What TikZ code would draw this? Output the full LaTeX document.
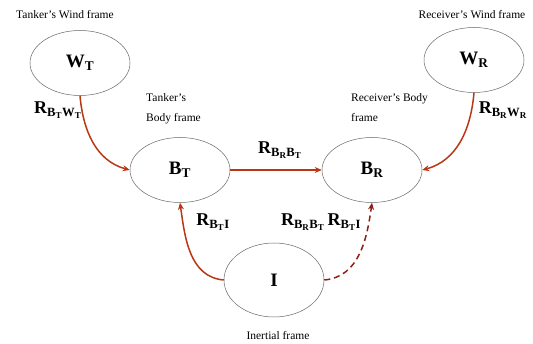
\documentclass[tikz,border=0pt]{standalone}
\usepackage{amsmath}
\usepackage{fontspec}
\setmainfont{Liberation Serif}
\usetikzlibrary{arrows.meta,shapes.geometric}
\definecolor{arr}{RGB}{185,55,20}
\definecolor{darr}{RGB}{145,30,20}
\newcommand\bsub[2]{\mathbf{#1}_{\mathbf{#2}}}
\begin{document}
\begin{tikzpicture}[x=1pt,y=-1pt,
  frame/.style={ellipse, draw=black!60, line width=0.5pt, minimum width=100pt,
    minimum height=65pt, inner sep=0pt, font=\fontsize{19}{19}\selectfont\bfseries},
  conn/.style={draw=arr, line width=1.5pt, -{Stealth[length=7pt,width=6pt]}},
  dconn/.style={draw=darr, line width=1.5pt, dash pattern=on 6pt off 4pt, -{Stealth[length=7pt,width=6pt]}},
  lbl/.style={font=\fontsize{11.5}{20}\selectfont, inner sep=0pt},
  rl/.style={font=\fontsize{18}{18}\selectfont\bfseries, inner sep=0pt}]
\useasboundingbox (0,0) rectangle (533,344);
\node[frame] (WT) at (80,63) {$\bsub{W}{T}$};
\node[frame] (WR) at (474,60) {$\bsub{W}{R}$};
\node[frame] (BT) at (180,170) {$\bsub{B}{T}$};
\node[frame] (BR) at (372,170) {$\bsub{B}{R}$};
\node[frame, minimum height=74pt] (I) at (274,280) {$\mathbf{I}$};

\node[lbl] (lwt) at (65,15) {Tanker’s Wind frame};
\node[lbl] (lwr) at (472,15) {Receiver’s Wind frame};
\node[lbl, anchor=north west, align=left] (lbt) at (146,93) {Tanker’s\\Body frame};
\node[lbl, anchor=north west, align=left] (lbr) at (351,93) {Receiver’s Body\\frame};
\node[lbl] (li) at (278,336) {Inertial frame};

\draw[conn] (WT.south) to[out=-85, in=165] (BT.west);
\draw[conn] (WR.south) to[out=-95, in=15] (BR.east);
\draw[conn] (BT.east) -- (BR.west);
\draw[conn] (I.west) to[out=175, in=-82] (BT.south);
\draw[dconn] (I.east) to[out=5, in=-98] (BR.south);

\node[rl] (r1) at (58,110) {$\mathbf{R}_{\bsub{B}{T}\bsub{W}{T}}$};
\node[rl] (r2) at (503,110) {$\mathbf{R}_{\bsub{B}{R}\bsub{W}{R}}$};
\node[rl] (r3) at (280,150) {$\mathbf{R}_{\bsub{B}{R}\bsub{B}{T}}$};
\node[rl] (r4) at (213,222) {$\mathbf{R}_{\bsub{B}{T}\mathbf{I}}$};
\node[rl] (r5) at (321,222) {$\mathbf{R}_{\bsub{B}{R}\bsub{B}{T}}\,\mathbf{R}_{\bsub{B}{T}\mathbf{I}}$};
\end{tikzpicture}
\end{document}
